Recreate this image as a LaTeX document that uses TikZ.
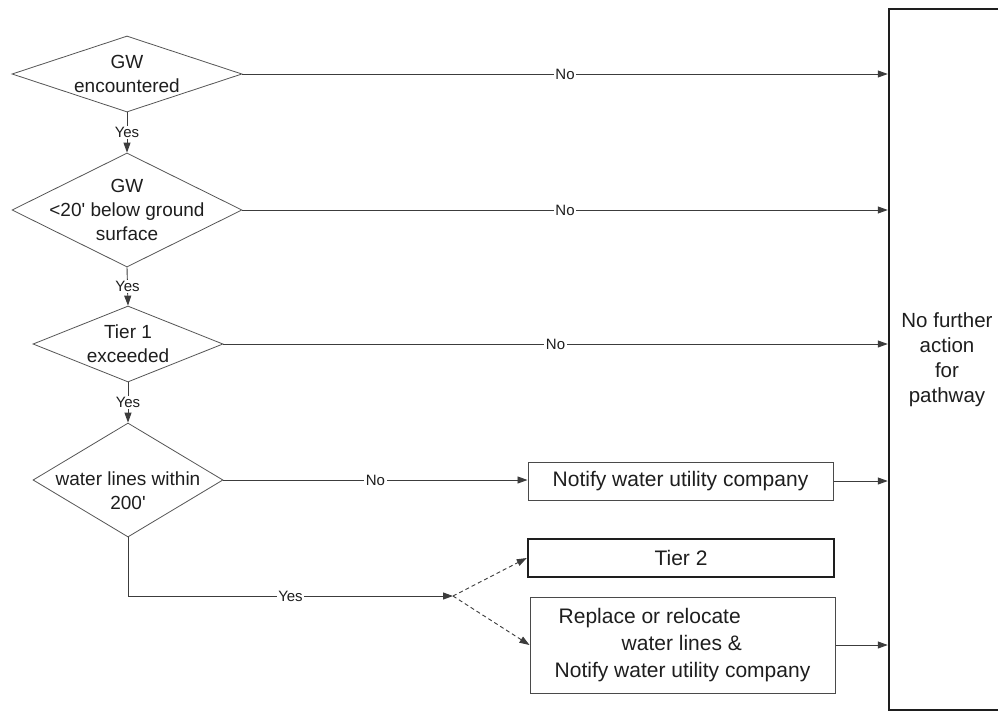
\documentclass[tikz,border=0pt]{standalone}
\usepackage{fontspec}
\setmainfont{Liberation Sans}
\usetikzlibrary{shapes.geometric,arrows.meta}
\definecolor{txt}{HTML}{1E1E1E}
\definecolor{linegray}{HTML}{3C3C3C}
\definecolor{diagray}{HTML}{555555}
\definecolor{boxgray}{HTML}{4A4A4A}
\begin{document}
\begin{tikzpicture}[x=1pt,y=-1pt,
 conn/.style={draw=linegray, line width=0.9pt, -{Triangle[length=10pt,width=7pt]}},
 dashconn/.style={conn, dash pattern=on 4pt off 3pt},
 dia/.style={diamond, draw=diagray, line width=0.8pt, inner sep=0pt},
 diatext/.style={align=center, font=\fontsize{19}{24}\selectfont, text=txt, inner sep=0pt},
 box/.style={rectangle, draw=boxgray, line width=1pt, align=center, font=\fontsize{21}{27}\selectfont, text=txt, inner sep=0pt},
 thickbox/.style={box, draw=txt, line width=2.5pt},
 lab/.style={fill=white, font=\fontsize{15}{18}\selectfont, inner sep=1.5pt, text=txt},
]
\useasboundingbox (0,0) rectangle (998,713);
\fill[white] (0,0) rectangle (998,713);

% decision diamonds
\node[dia, minimum width=230pt, minimum height=76pt] (d1) at (127,74) {};
\node[diatext] (d1t) at (d1) {GW\\encountered};
\node[dia, minimum width=230pt, minimum height=114pt] (d2) at (127,210) {};
\node[diatext] (d2t) at (d2) {GW\\<20\textquotesingle{} below ground\\surface};
\node[dia, minimum width=190pt, minimum height=76pt] (d3) at (128,344) {};
\node[diatext] (d3t) at (d3) {Tier 1\\exceeded};
\node[dia, minimum width=190pt, minimum height=114pt] (d4) at (128,480) {};
\node[diatext] (d4t) at (128,491) {water lines within\\200\textquotesingle};

% boxes
\node[thickbox, minimum width=116pt, minimum height=701pt, font=\fontsize{20.5}{25}\selectfont] (nfa) at (947,359.5) {No further\\action\\for\\pathway};
\node[box, minimum width=305pt, minimum height=38pt] (notify) at (680.5,481) {Notify water utility company};
\node[thickbox, minimum width=306pt, minimum height=38pt] (tier2) at (681,558) {Tier 2};
\node[box, minimum width=305pt, minimum height=96pt, align=left] (replace) at (682.5,645)
  {\hspace*{4pt}Replace or relocate\\\hspace*{67pt}water lines \&\\Notify water utility company};

\coordinate (j) at (453,596);

% Yes connectors
\draw[conn] (d1.south) -- (d2.north) node[lab, pos=0.5] {Yes};
\draw[conn] (d2.south) -- (d3.north) node[lab, pos=0.5] {Yes};
\draw[conn] (d3.south) -- (d4.north) node[lab, pos=0.5] {Yes};
\draw[conn] (d4.south) |- (j) node[lab, pos=0.75] {Yes};
\draw[dashconn] (j) -- (tier2.west);
\draw[dashconn] (j) -- (replace.west);

% No connectors
\draw[conn] (d1.east) -- (d1.east -| nfa.west) node[lab, pos=0.5] {No};
\draw[conn] (d2.east) -- (d2.east -| nfa.west) node[lab, pos=0.5] {No};
\draw[conn] (d3.east) -- (d3.east -| nfa.west) node[lab, pos=0.5] {No};
\draw[conn] (d4.east) -- (d4.east -| notify.west) node[lab, pos=0.5] {No};
\draw[conn] (notify.east) -- (notify.east -| nfa.west);
\draw[conn] (replace.east) -- (replace.east -| nfa.west);
\end{tikzpicture}
\end{document}
